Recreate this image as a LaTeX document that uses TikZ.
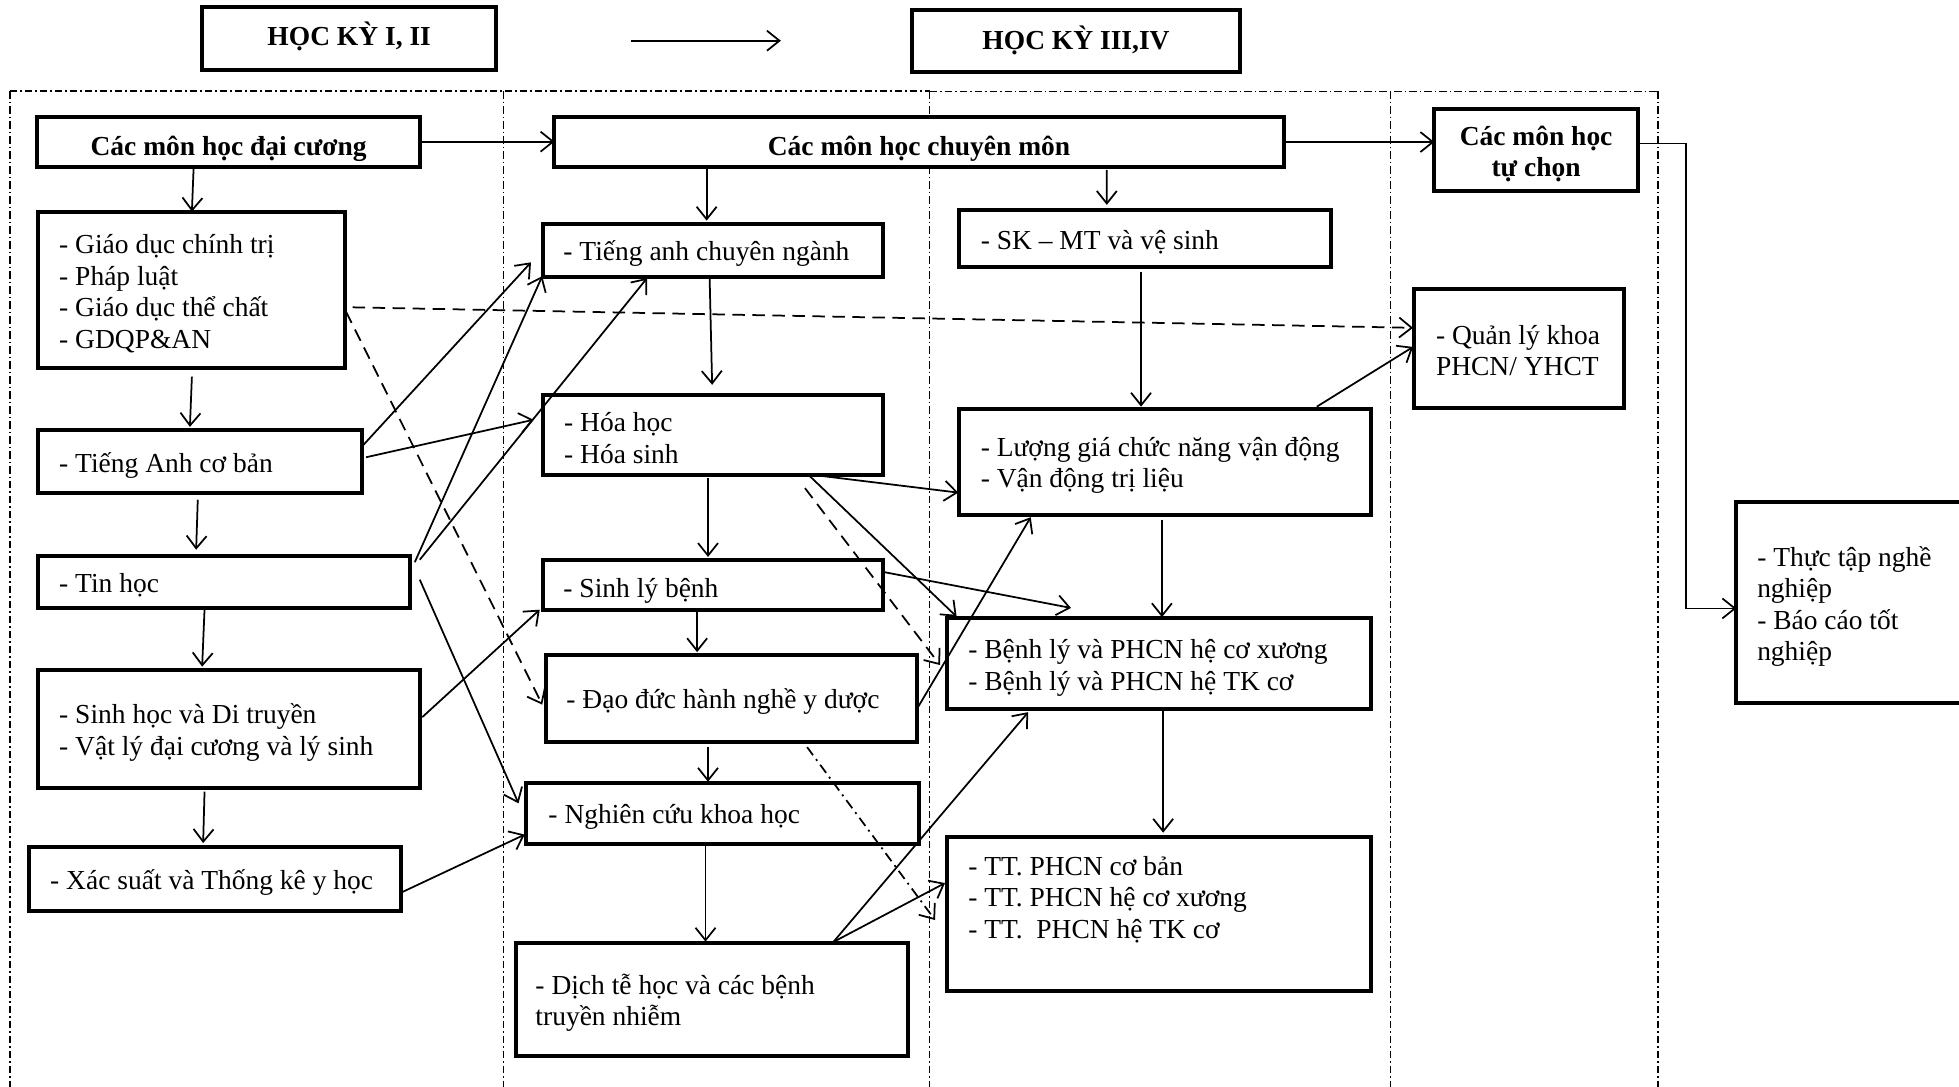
\documentclass[tikz,border=0pt]{standalone}
\usepackage{fontspec}
\setmainfont{Liberation Serif}
\usetikzlibrary{arrows.meta}
\tikzset{
  bx/.style={draw, fill=white, line width=1.6pt, inner sep=0pt, outer sep=0pt},
  hdt/.style={font=\bfseries\fontsize{11}{12.6}\selectfont, align=center, inner sep=0pt},
  txt/.style={align=left, inner sep=0pt, anchor=west, yshift=-1.4pt},
  con/.style={line width=0.7pt, -{Straight Barb[length=5pt,width=8pt]}},
  dsh/.style={con, dash pattern=on 5pt off 3pt},
  dshdot/.style={con, dash pattern=on 4pt off 2pt on 0.8pt off 2pt},
  frm/.style={line width=0.5pt, dash pattern=on 3pt off 1.2pt on 0.6pt off 1.2pt},
  frmb/.style={line width=0.9pt, dash pattern=on 3pt off 1.2pt on 0.6pt off 1.2pt},
}
\begin{document}
\begin{tikzpicture}[x=0.5pt, y=-0.5pt, font=\fontsize{11}{12.6}\selectfont]
\fill[white] (0,0) rectangle (1568,870);
\useasboundingbox (0,0) rectangle (1568,870);

% frame
\draw[frmb] (8,73) -- (744,73);
\draw[frm] (744,73) -- (1327,73);
\foreach \fx in {8,403,744,1113,1327} \draw[frm] (\fx,73) -- (\fx,870);

% headers
\node[bx, minimum width=117.5pt, minimum height=25.25pt] (hk1) at (279.5,30.75) {};
\node[hdt] (hk1-t) at ([yshift=0.8pt]hk1.center) {HỌC KỲ I, II};
\node[bx, minimum width=131.25pt, minimum height=25pt] (hk3) at (861.25,33) {};
\node[hdt] (hk3-t) at ([yshift=0.5pt]hk3.center) {HỌC KỲ III,IV};
\coordinate (ha) at (505,32.6);
\coordinate (hb) at (625,32.6);
\draw[con] (ha) -- (hb);

% row 1
\node[bx, minimum width=153pt, minimum height=20pt] (dc) at (183,113.4) {};
\node[hdt] (dc-t) at ([yshift=-2.8pt]dc.center) {Các môn học đại cương};
\node[bx, minimum width=291.8pt, minimum height=20.3pt] (cm) at (735.6,113.7) {};
\node[hdt] (cm-t) at ([yshift=-2.8pt]cm.center) {Các môn học chuyên môn};
\node[bx, minimum width=81.5pt, minimum height=33pt] (tc) at (1229.5,120) {};
\node[hdt] (tc-t) at ([yshift=-1.7pt]tc.center) {Các môn học\\tự chọn};
\node[bx, minimum width=91.15pt, minimum height=80.5pt] (thuc) at (1480.85,482.5) {};
\node[txt] (thuc-t) at ([xshift=8.2pt]thuc.west) {- Thực tập nghề\\nghiệp\\- Báo cáo tốt\\nghiệp};

% column 1
\node[bx, minimum width=122.8pt, minimum height=62.7pt] (gdct) at (153.2,232.1) {};
\node[txt] (gdct-t) at ([xshift=8.3pt]gdct.west) {- Giáo dục chính trị\\- Pháp luật\\- Giáo dục thể chất\\- GDQP\&AN};
\node[bx, minimum width=129.8pt, minimum height=25.3pt] (tacb) at (160.2,369.5) {};
\node[txt] (tacb-t) at ([xshift=8.3pt]tacb.west) {- Tiếng Anh cơ bản};
\node[bx, minimum width=148.8pt, minimum height=21pt] (tin) at (179.2,465.8) {};
\node[txt] (tin-t) at ([xshift=8.3pt]tin.west) {- Tin học};
\node[bx, minimum width=152.8pt, minimum height=47.25pt] (sh) at (183.2,583.55) {};
\node[txt] (sh-t) at ([xshift=8.3pt]sh.west) {- Sinh học và Di truyền\\- Vật lý đại cương và lý sinh};
\node[bx, minimum width=148.8pt, minimum height=25.65pt] (xs) at (172,703.35) {};
\node[txt] (xs-t) at ([xshift=8.3pt]xs.west) {- Xác suất và Thống kê y học};

% column 2
\node[bx, minimum width=136.2pt, minimum height=21.5pt] (tacn) at (570.8,200.5) {};
\node[txt] (tacn-t) at ([xshift=8pt]tacn.west) {- Tiếng anh chuyên ngành};
\node[bx, minimum width=136.2pt, minimum height=32pt] (hh) at (570.8,348) {};
\node[txt] (hh-t) at ([xshift=8.3pt]hh.west) {- Hóa học\\- Hóa sinh};
\node[bx, minimum width=136.2pt, minimum height=20pt] (slb) at (570.8,468) {};
\node[txt] (slb-t) at ([xshift=8pt, yshift=-1pt]slb.west) {- Sinh lý bệnh};
\node[bx, minimum width=148.5pt, minimum height=35pt] (dd) at (585.5,559) {};
\node[txt] (dd-t) at ([xshift=8pt]dd.west) {- Đạo đức hành nghề y dược};
\node[bx, minimum width=157.3pt, minimum height=24.25pt] (nc) at (578.3,651.25) {};
\node[txt] (nc-t) at ([xshift=8.8pt]nc.west) {- Nghiên cứu khoa học};
\node[bx, minimum width=156.7pt, minimum height=45pt] (dt) at (569.7,800) {};
\node[txt] (dt-t) at ([xshift=7.6pt]dt.west) {- Dịch tễ học và các bệnh\\truyền nhiễm};

% column 3
\node[bx, minimum width=148.95pt, minimum height=22.75pt] (sk) at (916.55,190.75) {};
\node[txt] (sk-t) at ([xshift=8.5pt]sk.west) {- SK – MT và vệ sinh};
\node[bx, minimum width=164.9pt, minimum height=42.3pt] (lg) at (932.5,369.7) {};
\node[txt] (lg-t) at ([xshift=8.5pt]lg.west) {- Lượng giá chức năng vận động\\- Vận động trị liệu};
\node[bx, minimum width=169.9pt, minimum height=36.45pt] (bl) at (927.5,531.05) {};
\node[txt] (bl-t) at ([xshift=8.5pt, yshift=-0.3pt]bl.west) {- Bệnh lý và PHCN hệ cơ xương\\- Bệnh lý và PHCN hệ TK cơ};
\node[bx, minimum width=169.9pt, minimum height=61.65pt] (ttp) at (927.5,731.35) {};
\node[txt] (ttp-t) at ([xshift=8.5pt, yshift=7pt]ttp.west) {- TT. PHCN cơ bản\\- TT. PHCN hệ cơ xương\\- TT.~~PHCN hệ TK cơ};

% column 4
\node[bx, minimum width=84pt, minimum height=47.45pt] (ql) at (1216,279.15) {};
\node[txt] (ql-t) at ([xshift=8.5pt, yshift=0.6pt]ql.west) {- Quản lý khoa\\PHCN/ YHCT};

% horizontal connectors
\draw[con] (dc.east) -- (dc.east -| cm.west);
\draw[con] (cm.east) -- (cm.east -| tc.west);
\coordinate (elbow) at (1349.4,300);
\draw[con] ([shift={(163,27.9)}]tc.north west) -| (elbow) |- ([shift={(0,85)}]thuc.north west);

% vertical connectors
\draw[con] ([shift={(125,40)}]dc.north west) -- ([shift={(123.2,0)}]gdct.north west);
\draw[con] ([shift={(123.2,132)}]gdct.north west) -- ([shift={(121.6,-2.5)}]tacb.north west);
\draw[con] ([shift={(127.9,55.8)}]tacb.north west) -- ([shift={(126.6,-4.8)}]tin.north west);
\draw[con] ([shift={(133.3,43.2)}]tin.north west) -- ([shift={(131.4,-2.7)}]sh.north west);
\draw[con] ([shift={(133.3,97.4)}]sh.north west) -- ([shift={(139.4,-2.9)}]xs.north west);
\draw[con] ([shift={(121.8,40.6)}]cm.north west) -- ([shift={(131,-2.4)}]tacn.north west);
\draw[con] ([shift={(442.1,42.6)}]cm.north west) -- ([shift={(118.3,-4)}]sk.north west);
\draw[con] ([shift={(133.4,43.7)}]tacn.north west) -- ([shift={(135.4,-8)}]hh.north west);
\draw[con] ([shift={(132.1,66.6)}]hh.north west) -- ([shift={(132.1,-2.2)}]slb.north west);
\draw[con] ([shift={(123.4,42)}]slb.north west) -- ([shift={(121,-2)}]dd.north west);
\draw[con] ([shift={(129.7,73.6)}]dd.north west) -- ([shift={(145.7,-1.3)}]nc.north west);
\draw[con] ([shift={(143.7,49.3)}]nc.north west) -- ([shift={(151.7,-1.3)}]dt.north west);
\draw[con] ([shift={(145.7,49.5)}]sk.north west) -- ([shift={(145.7,-1.9)}]lg.north west);
\draw[con] ([shift={(162.4,88.6)}]lg.north west) -- ([shift={(172.4,-0.6)}]bl.north west);
\draw[con] ([shift={(173.4,73)}]bl.north west) -- ([shift={(173.4,-3.2)}]ttp.north west);

% diagonal connectors
\draw[dsh] ([shift={(251.9,76.6)}]gdct.north west) -- ([shift={(-1,30.7)}]ql.north west);
\draw[dsh] ([shift={(246.6,80.1)}]gdct.north west) -- ([shift={(-3,40)}]dd.north west);
\draw[con] ([shift={(260.6,11.8)}]tacb.north west) -- ([shift={(-9.6,31)}]tacn.north west);
\draw[con] ([shift={(262.6,21.8)}]tacb.north west) -- ([shift={(-7.6,20)}]hh.north west);
\draw[con] ([shift={(301.6,5.2)}]tin.north west) -- ([shift={(-0.6,42)}]tacn.north west);
\draw[con] ([shift={(305.6,3.2)}]tin.north west) -- ([shift={(83.4,43.5)}]tacn.north west);
\draw[con] ([shift={(305.6,19.2)}]tin.north west) -- ([shift={(-6,16)}]nc.north west);
\draw[con] ([shift={(307.6,37.7)}]sh.north west) -- ([shift={(-2.6,40)}]slb.north west);
\draw[con] ([shift={(298.8,36.3)}]xs.north west) -- ([shift={(-1,41)}]nc.north west);
\draw[con] ([shift={(223.4,65)}]hh.north west) -- ([shift={(-0.6,66.9)}]lg.north west);
\draw[con] ([shift={(212.4,64)}]hh.north west) -- ([shift={(8.1,-1)}]bl.north west);
\draw[dsh] ([shift={(209.7,74.7)}]hh.north west) -- ([shift={(-5.2,37.7)}]bl.north west);
\draw[con] ([shift={(273.4,10)}]slb.north west) -- ([shift={(99.6,-8)}]bl.north west);
\draw[con] ([shift={(298,41.6)}]dd.north west) -- ([shift={(57.4,86.6)}]lg.north west);
\draw[dshdot] ([shift={(209,74)}]dd.north west) -- ([shift={(-9.2,66.7)}]ttp.north west);
\draw[con] ([shift={(254,-1)}]dt.north west) -- ([shift={(65.4,75.4)}]bl.north west);
\draw[con] ([shift={(254,-1)}]dt.north west) -- ([shift={(-1.2,37.1)}]ttp.north west);
\draw[con] ([shift={(286.4,-1.9)}]lg.north west) -- ([shift={(-1,46)}]ql.north west);
\end{tikzpicture}
\end{document}
